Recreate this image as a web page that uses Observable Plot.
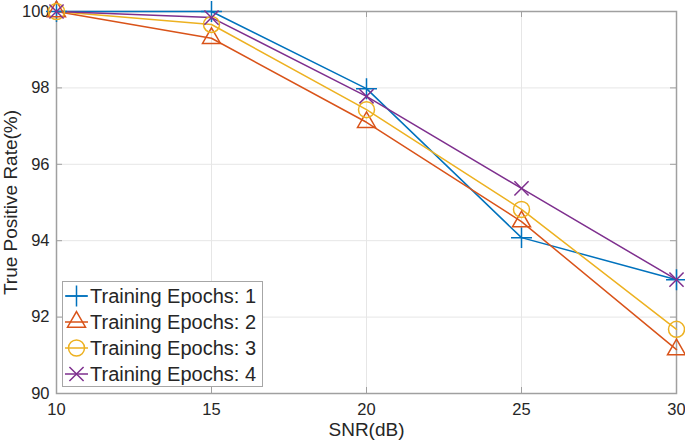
<!DOCTYPE html>
<html><head><meta charset="utf-8">
<script src="https://cdn.jsdelivr.net/npm/d3@7"></script>
<script src="https://cdn.jsdelivr.net/npm/@observablehq/plot@0.6"></script>
<style>
body{margin:0;background:#fff}
#wrap{position:relative;width:685px;height:445px;font-family:"Liberation Sans",Arial,sans-serif;color:#262626}
#legend{position:absolute;left:62px;top:281px;width:201px;height:106px;border:1px solid #a6a6a6;background:#fff;box-sizing:border-box;padding-top:1px}
.row{display:flex;align-items:center;height:26px;font-size:20px;line-height:26px;white-space:nowrap}
.row svg{flex:none;width:27px;height:26px}
</style>
</head><body>
<div id="wrap"></div>
<script>
const snr = [10, 15, 20, 25, 30];
const epochs1 = [100, 100, 97.98, 94.08, 92.98];
const epochs2 = [100, 99.3, 97.1, 94.5, 91.15];
const epochs3 = [100, 99.66, 97.43, 94.82, 91.68];
const epochs4 = [100, 99.84, 97.78, 95.37, 92.98];
const seriesNames = ["Training Epochs: 1", "Training Epochs: 2", "Training Epochs: 3", "Training Epochs: 4"];
const colors = ["#0072BD", "#D95319", "#EDB120", "#7E2F8E"];
const symbols = ["plus", "triangle2", "circle", "times"];
const symbolR = [6.8, 8.6, 8, 6.5];
const xTicks = [10, 15, 20, 25, 30];
const yTicks = [90, 92, 94, 96, 98, 100];

const seriesValues = [epochs1, epochs2, epochs3, epochs4];
const rows = seriesValues.flatMap((vals, i) => snr.map((s, j) => ({snr: s, tpr: vals[j], series: seriesNames[i]})));

const W = 685, H = 445, mL = 56, mR = 9, mT = 11, mB = 52;
const pw = W - mL - mR, ph = H - mT - mB, tick = 6;
const axisColor = "#a0a0a0";

const chart = Plot.plot({
  width: W, height: H,
  marginLeft: mL, marginRight: mR, marginTop: mT, marginBottom: mB,
  style: {fontFamily: "'Liberation Sans', Arial, sans-serif", color: "#262626", background: "#fff", overflow: "visible"},
  x: {domain: [10, 30]},
  y: {domain: [90, 100]},
  color: {domain: seriesNames, range: colors},
  marks: [
    Plot.gridX(xTicks, {stroke: "#e6e6e6", strokeOpacity: 1}),
    Plot.gridY(yTicks, {stroke: "#e6e6e6", strokeOpacity: 1}),
    Plot.frame({stroke: axisColor, strokeWidth: 1.5}),
    Plot.tickY(yTicks, {y: d => d, insetRight: pw - tick, stroke: axisColor}),
    Plot.tickY(yTicks, {y: d => d, insetLeft: pw - tick, stroke: axisColor}),
    Plot.tickX(xTicks, {x: d => d, insetTop: ph - tick, stroke: axisColor}),
    Plot.tickX(xTicks, {x: d => d, insetBottom: ph - tick, stroke: axisColor}),
    Plot.axisX({ticks: xTicks, tickSize: 0, tickPadding: 10, label: null, fontSize: 16.5, tickFormat: d => String(d)}),
    Plot.axisY({ticks: yTicks, tickSize: 0, tickPadding: 7, label: null, fontSize: 16.5, tickFormat: d => String(d)}),
    Plot.line(rows, {x: "snr", y: "tpr", stroke: "series", strokeWidth: 1.5}),
    ...seriesNames.map((name, i) => Plot.dot(rows.filter(d => d.series === name), {
      x: "snr", y: "tpr", symbol: symbols[i], r: symbolR[i], fill: "none", stroke: colors[i], strokeWidth: 1.5
    })),
    Plot.text(["SNR(dB)"], {frameAnchor: "bottom", dy: 42, fontSize: 19, fill: "#262626"}),
    Plot.text(["True Positive Rate(%)"], {frameAnchor: "left", textAnchor: "middle", rotate: -90, dx: -46, fontSize: 19, fill: "#262626"})
  ]
});
const wrap = document.getElementById("wrap");
wrap.appendChild(chart);

// legend overlay
const legend = document.createElement("div");
legend.id = "legend";
seriesNames.forEach((name, i) => {
  const row = document.createElement("div");
  row.className = "row";
  const size = Math.PI * symbolR[i] * symbolR[i];
  const typeMap = {plus: d3.symbolPlus, triangle2: d3.symbolTriangle2, circle: d3.symbolCircle, times: d3.symbolTimes};
  const path = d3.symbol(typeMap[symbols[i]], size)();
  row.innerHTML = `<svg viewBox="0 0 27 26"><line x1="2" x2="25" y1="13" y2="13" stroke="${colors[i]}" stroke-width="1.5"/><path d="${path}" transform="translate(13.5,13)" fill="none" stroke="${colors[i]}" stroke-width="1.5"/></svg><span>${name}</span>`;
  legend.appendChild(row);
});
wrap.appendChild(legend);
</script>
</body></html>
